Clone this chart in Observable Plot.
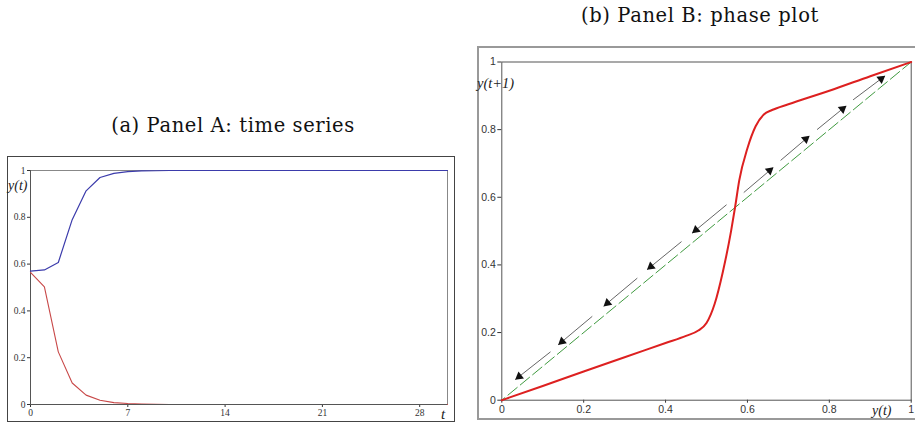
<!DOCTYPE html>
<html><head><meta charset="utf-8">
<script src="https://cdn.jsdelivr.net/npm/d3@7"></script>
<script src="https://cdn.jsdelivr.net/npm/@observablehq/plot@0.6"></script>
<style>
html,body{margin:0;padding:0;width:915px;height:422px;overflow:hidden;background:#fff}
body{position:relative}
.abs{position:absolute}
.title{font-family:"DejaVu Serif",serif;font-size:19.5px;letter-spacing:0.6px;color:#111;white-space:nowrap;transform:translate(-50%,-50%)}
.lab{font-family:"Liberation Serif",serif;font-style:italic;font-size:14px;color:#222;white-space:nowrap;transform:translate(0,-50%)}
#frameA{left:7px;top:156px;width:446px;height:264px;border:1px solid #444}
#frameB{left:477px;top:46px;width:460px;height:370px;border:2px solid #999}
#plotA{left:8px;top:157px}
#plotB{left:479px;top:48px}
svg{display:block}
</style></head><body>
<div class="abs title" style="left:233px;top:125px">(a) Panel A: time series</div>
<div class="abs title" style="left:700px;top:15px">(b) Panel B: phase plot</div>
<div id="frameA" class="abs"></div>
<div id="frameB" class="abs"></div>
<div id="plotA" class="abs"></div>
<div id="plotB" class="abs"></div>
<div class="abs lab" style="left:8px;top:186px">y(t)</div>
<div class="abs lab" style="left:441px;top:414px;font-size:15px">t</div>
<div class="abs lab" style="left:477px;top:83px;font-size:14.5px">y(t+1)</div>
<div class="abs lab" style="left:872px;top:411px">y(t)</div>
<script>
// Panel A: time series
const tSteps = [0,1,2,3,4,5,6,7,8,9,10,11,12,13,14,15,16,17,18,19,20,21,22,23,24,25,26,27,28,29,30];
const blueSeries = [0.57,0.575,0.607,0.79,0.913,0.97,0.988,0.995,0.998,0.999,1,1,1,1,1,1,1,1,1,1,1,1,1,1,1,1,1,1,1,1,1];
const redSeries = [0.565,0.503,0.225,0.092,0.04,0.018,0.008,0.004,0.002,0.001,0,0,0,0,0,0,0,0,0,0,0,0,0,0,0,0,0,0,0,0,0];
const tTicks = [0,7,14,21,28];
const yTicksA = [0,0.2,0.4,0.6,0.8,1];

// Panel B: phase plot
const phaseX = [0,0.1,0.2,0.3,0.4,0.45,0.48,0.5,0.52,0.54,0.56,0.57,0.58,0.6,0.62,0.64,0.66,0.7,0.8,0.9,1];
const phaseY = [0,0.042,0.085,0.127,0.169,0.19,0.206,0.228,0.285,0.38,0.5,0.572,0.65,0.745,0.81,0.845,0.858,0.875,0.915,0.958,1];
const diagX = [0,1];
const diagY = [0,1];
const arrowTailX = [0.119,0.221,0.331,0.439,0.549,0.591,0.681,0.770,0.858];
const arrowTailY = [0.143,0.248,0.361,0.469,0.578,0.614,0.709,0.800,0.888];
const arrowTipX  = [0.033,0.138,0.249,0.355,0.465,0.662,0.750,0.840,0.935];
const arrowTipY  = [0.061,0.164,0.278,0.386,0.494,0.687,0.780,0.869,0.958];
const xTicksB = [0,0.2,0.4,0.6,0.8,1];
const yTicksB = [0,0.2,0.4,0.6,0.8,1];

const fmt = d => String(d);

// ---- Panel A
const A = {width:446, height:264, ml:22, mr:7, mt:13, mb:17};
const blueData = tSteps.map((t,i)=>({t, v: blueSeries[i]}));
const redData = tSteps.map((t,i)=>({t, v: redSeries[i]}));
const plotA = Plot.plot({
  width:A.width, height:A.height,
  marginLeft:A.ml, marginRight:A.mr, marginTop:A.mt, marginBottom:A.mb,
  style:{fontFamily:"Liberation Serif, serif", fontSize:"9.5px", color:"#333", background:"transparent", overflow:"visible"},
  x:{domain:[0,30], ticks:tTicks, tickFormat:fmt, tickSize:3, tickPadding:2, label:null},
  y:{domain:[0,1], ticks:yTicksA, tickFormat:fmt, tickSize:3, tickPadding:2, label:null},
  marks:[
    Plot.frame({stroke:"#888"}),
    Plot.ruleX([0],{stroke:"#555"}),
    Plot.line(blueData,{x:"t", y:"v", stroke:"#3b3bab", strokeWidth:1.2}),
    Plot.line(redData,{x:"t", y:"v", stroke:"#c84848", strokeWidth:1.1}),
    Plot.ruleY([0],{stroke:"#555"})
  ]
});
document.getElementById("plotA").appendChild(plotA);

// ---- Panel B
const B = {width:436, height:368, ml:22.3, mr:4.3, mt:13.5, mb:16.3};
const kx = B.width - B.ml - B.mr, ky = B.height - B.mt - B.mb;
const phaseData = phaseX.map((x,i)=>({x, y: phaseY[i]}));
const diagData = diagX.map((x,i)=>({x, y: diagY[i]}));
const arrows = arrowTailX.map((x,i)=>({x1:x, y1:arrowTailY[i], x2:arrowTipX[i], y2:arrowTipY[i]}));
const angle = d => Math.atan2((d.x2-d.x1)*kx, (d.y2-d.y1)*ky) * 180 / Math.PI;
const plotB = Plot.plot({
  width:B.width, height:B.height,
  marginLeft:B.ml, marginRight:B.mr, marginTop:B.mt, marginBottom:B.mb,
  style:{fontFamily:"Liberation Sans, Arial, sans-serif", fontSize:"10.5px", color:"#333", background:"transparent", overflow:"visible"},
  x:{domain:[0,1], ticks:xTicksB, tickFormat:fmt, tickSize:3, tickPadding:2, label:null},
  y:{domain:[0,1], ticks:yTicksB, tickFormat:fmt, tickSize:4, tickPadding:2, label:null},
  marks:[
    Plot.frame({stroke:"#555"}),
    Plot.line(diagData,{x:"x", y:"y", stroke:"#3f9a3f", strokeWidth:1, strokeDasharray:"12,4", strokeDashoffset:8}),
    Plot.link(arrows,{x1:"x1", y1:"y1", x2:"x2", y2:"y2", stroke:"#555", strokeWidth:0.9}),
    Plot.dot(arrows,{x:d=>d.x2-0.11*(d.x2-d.x1), y:d=>d.y2-0.11*(d.y2-d.y1), symbol:"triangle", r:3.3, fill:"#111", stroke:"none", rotate:angle}),
    Plot.line(phaseData,{x:"x", y:"y", stroke:"#dd2020", strokeWidth:2, curve:"monotone-x"})
  ]
});
document.getElementById("plotB").appendChild(plotB);
</script>
</body></html>
